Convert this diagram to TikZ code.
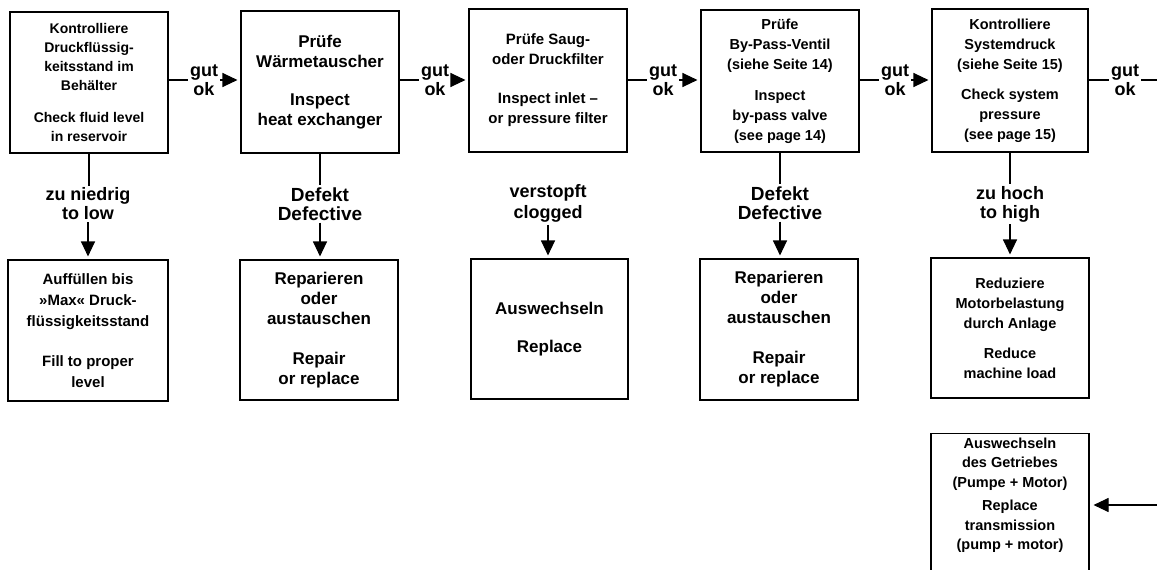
\documentclass[tikz,border=0pt]{standalone}
\usepackage{fontspec}
\setmainfont{Liberation Sans}
\usetikzlibrary{arrows.meta}
\newcommand\fsz[2]{\fontsize{#1pt}{#2pt}\selectfont}
\tikzset{
  box/.style={draw, line width=1.1pt, align=center, inner sep=0pt},
  topbox/.style={box, minimum width=157pt, minimum height=142pt},
  lowbox/.style={box, minimum width=158pt, minimum height=140pt},
  lab/.style={align=center, inner sep=2pt, font=\bfseries\fsz{18}{19}},
  conn/.style={line width=1.1pt},
  arr/.style={conn, -{Triangle[length=15pt,width=14pt]}, shorten >=3pt},
}
\begin{document}
\begin{tikzpicture}[x=1pt,y=-1pt]
\clip (0,0) rectangle (1157,570);
\fill[white] (0,0) rectangle (1157,570);

% main checking sequence
\node[topbox, minimum width=158pt, minimum height=141pt, font=\bfseries\fsz{14}{19}] (b1) at (89,82.5)
  {Kontrolliere\\Druckflüssig-\\keitsstand im\\Behälter\\[13pt]Check fluid level\\in reservoir};
\node[topbox, minimum width=158pt, font=\bfseries\fsz{17}{20}] (b2) at (320,82)
  {Prüfe\\Wärmetauscher\\[18pt]Inspect\\heat exchanger};
\node[topbox, minimum width=158pt, minimum height=143pt, font=\bfseries\fsz{15}{20}] (b3) at (548,80.5)
  {Prüfe Saug-\\oder Druckfilter\\[19pt]Inspect inlet –\\or pressure filter};
\node[topbox, minimum width=158pt, font=\bfseries\fsz{14.5}{20}] (b4) at (780,81)
  {Prüfe\\By-Pass-Ventil\\(siehe Seite 14)\\[11pt]Inspect\\by-pass valve\\(see page 14)};
\node[topbox, minimum width=156pt, minimum height=143pt, font=\bfseries\fsz{14.5}{20}] (b5) at (1010,80.5)
  {Kontrolliere\\Systemdruck\\(siehe Seite 15)\\[10pt]Check system\\pressure\\(see page 15)};

% remedies
\node[lowbox, minimum width=160pt, minimum height=141pt, font=\bfseries\fsz{15}{21}] (c1) at (88,330.5)
  {Auffüllen bis\\»Max« Druck-\\flüssigkeitsstand\\[19pt]Fill to proper\\level};
\node[lowbox, minimum width=158pt, font=\bfseries\fsz{17}{20}] (c2) at (319,330)
  {Reparieren\\oder\\austauschen\\[20pt]Repair\\or replace};
\node[lowbox, minimum width=157pt, font=\bfseries\fsz{17}{38}] (c3) at (549.5,329)
  {Auswechseln\\Replace};
\node[lowbox, minimum width=158pt, minimum height=141pt, font=\bfseries\fsz{17}{20}] (c4) at (779,329.5)
  {Reparieren\\oder\\austauschen\\[20pt]Repair\\or replace};
\node[lowbox, font=\bfseries\fsz{14.5}{20}] (c5) at (1010,328)
  {Reduziere\\Motorbelastung\\durch Anlage\\[10pt]Reduce\\machine load};

% transmission replacement, open at the lower edge
\node[draw, line width=1.1pt, minimum width=158pt, minimum height=200pt, anchor=north] (b6) at (1010,433) {};
\node[align=center, inner sep=0pt, font=\bfseries\fsz{14.5}{19.5}] (b6t) at (1010,495)
  {Auswechseln\\des Getriebes\\(Pumpe + Motor)\\[4pt]Replace\\transmission\\(pump + motor)};

% "gut / ok" labels
\node[lab] (g1) at (204,80) {gut\\ok};
\node[lab] (g2) at (435,80) {gut\\ok};
\node[lab] (g3) at (663,80) {gut\\ok};
\node[lab] (g4) at (895,80) {gut\\ok};
\node[lab] (g5) at (1125,80) {gut\\ok};
\coordinate (e1) at (1160,80);
\coordinate (e2) at (1160,505);

% fault labels
\node[lab] (l1) at (88,204) {zu niedrig\\to low};
\node[lab, font=\bfseries\fsz{19}{19}] (l2) at (320,204) {Defekt\\Defective};
\node[lab, font=\bfseries\fsz{18}{21}] (l3) at (548,203.5) {verstopft\\clogged};
\node[lab, font=\bfseries\fsz{19}{19}] (l4) at (780,203) {Defekt\\Defective};
\node[lab] (l5) at (1010,204) {zu hoch\\to high};

% horizontal flow
\draw[conn] (b1.east |- g1.west) -- (g1.west);
\draw[arr] (g1.east) -- (b2.west |- g1.east);
\draw[conn] (b2.east |- g2.west) -- (g2.west);
\draw[arr] (g2.east) -- (b3.west |- g2.east);
\draw[conn] (b3.east |- g3.west) -- (g3.west);
\draw[arr] (g3.east) -- (b4.west |- g3.east);
\draw[conn] (b4.east |- g4.west) -- (g4.west);
\draw[arr] (g4.east) -- (b5.west |- g4.east);
\draw[conn] (b5.east |- g5.west) -- (g5.west);
\draw[conn] (g5.east) -- (e1);
\draw[arr, shorten >=4pt] (e2) -- (e2 -| b6.east);

% vertical flow
\draw[conn] (b1.south) -- (b1.south |- l1.north);
\draw[arr] (l1.south) -- (l1.south |- c1.north);
\draw[conn] (b2.south) -- (b2.south |- l2.north);
\draw[arr] (l2.south) -- (l2.south |- c2.north);
\draw[arr] (l3.south) -- (l3.south |- c3.north);
\draw[conn] (b4.south) -- (b4.south |- l4.north);
\draw[arr] (l4.south) -- (l4.south |- c4.north);
\draw[conn] (b5.south) -- (b5.south |- l5.north);
\draw[arr] (l5.south) -- (l5.south |- c5.north);
\end{tikzpicture}
\end{document}
